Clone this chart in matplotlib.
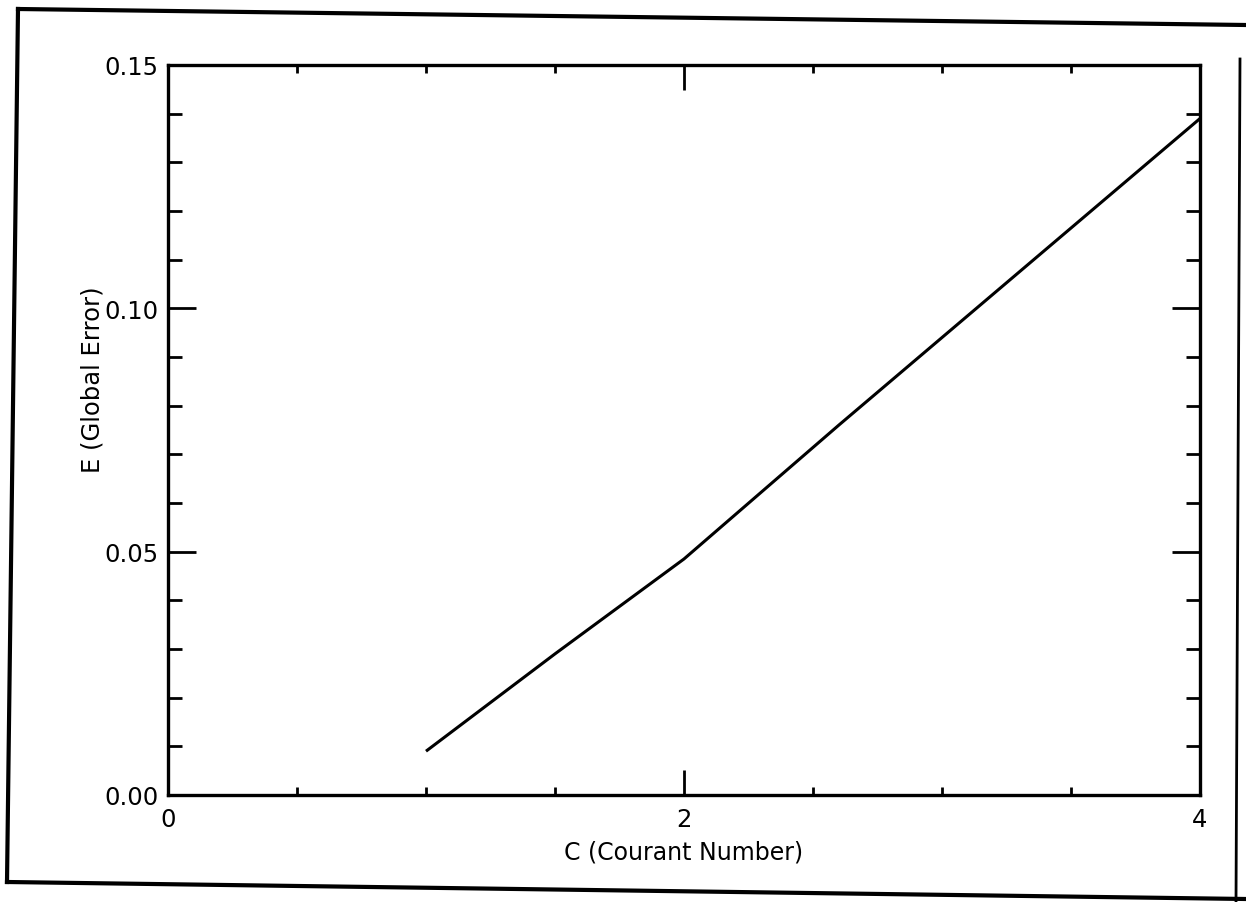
import matplotlib
matplotlib.use("Agg")
import matplotlib.pyplot as plt
from matplotlib.lines import Line2D
from matplotlib.ticker import MultipleLocator, FixedLocator

# Data
courant = [1.0, 1.5, 2.0, 2.6, 4.0]
global_error = [0.009, 0.029, 0.0485, 0.076, 0.139]
x_ticks = [0, 2, 4]
x_tick_labels = ["0", "2", "4"]
y_ticks = [0.00, 0.05, 0.10, 0.15]
y_tick_labels = ["0.00", "0.05", "0.10", "0.15"]
x_label = "C (Courant Number)"
y_label = "E (Global Error)"

W, H = 1246, 903
fig = plt.figure(figsize=(W / 100, H / 100), dpi=100)
plt.rcParams['font.family'] = ['DejaVu Sans']

left, right, top, bottom = 168, 1200, 66, 796
ax = fig.add_axes([left / W, 1 - bottom / H, (right - left) / W, (bottom - top) / H])

ax.plot(courant, global_error, color="black", lw=2.2, solid_capstyle="butt")

ax.set_xlim(0, 4)
ax.set_ylim(0, 0.15)
ax.xaxis.set_major_locator(FixedLocator(x_ticks))
ax.set_xticklabels(x_tick_labels)
ax.yaxis.set_major_locator(FixedLocator(y_ticks))
ax.set_yticklabels(y_tick_labels)
ax.xaxis.set_minor_locator(MultipleLocator(0.5))
ax.yaxis.set_minor_locator(MultipleLocator(0.01))

ax.tick_params(which="both", direction="in", top=True, right=True,
               color="black", width=2)
ax.tick_params(axis="x", which="major", length=18, labelsize=17.5, pad=9)
ax.tick_params(axis="x", which="minor", length=6)
ax.tick_params(axis="y", which="major", length=20, labelsize=17.5, pad=7)
ax.tick_params(axis="y", which="minor", length=10)
for s in ax.spines.values():
    s.set_linewidth(2.4)
    s.set_color("black")

ax.set_xlabel(x_label, fontsize=17, labelpad=6)
ax.set_ylabel(y_label, fontsize=17.5)
ax.yaxis.set_label_coords(-0.062, 0.57)

# page frame of the scanned figure (slightly tilted)
def fl(x0, y0, x1, y1, lw=3):
    fig.add_artist(Line2D([x0 / W, x1 / W], [1 - y0 / H, 1 - y1 / H],
                          transform=fig.transFigure, color="black", lw=lw))

fl(18, 10, 1246, 26)
fl(18, 10, 7, 883)
fl(7, 883, 1246, 900)
fl(1240, 60, 1236, 903, lw=2)

fig.savefig("out.png", dpi=100, facecolor="white")
